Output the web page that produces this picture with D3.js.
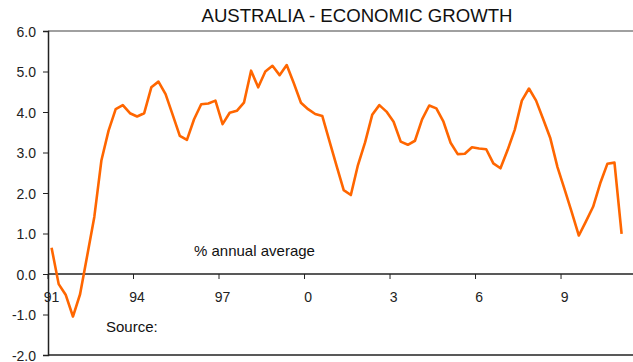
<!DOCTYPE html>
<html>
<head>
<meta charset="utf-8">
<script src="https://cdn.jsdelivr.net/npm/d3@7"></script>
<style>
  body { margin: 0; background: #fff; }
  svg { display: block; font-family: "Liberation Sans", Arial, sans-serif; }
</style>
</head>
<body>
<div id="chart"></div>
<script>
// quarterly % annual average, 1991 Q1 onwards
var growth = [
  0.65, -0.25, -0.52, -1.05, -0.50, 0.45, 1.41, 2.81,
  3.54, 4.07, 4.17, 3.97, 3.89, 3.97, 4.61, 4.75,
  4.44, 3.93, 3.41, 3.31, 3.82, 4.19, 4.21, 4.28,
  3.70, 3.98, 4.03, 4.23, 5.02, 4.61, 5.00, 5.14,
  4.91, 5.16, 4.71, 4.23, 4.07, 3.95, 3.90, 3.28,
  2.67, 2.07, 1.95, 2.69, 3.25, 3.93, 4.17, 4.01,
  3.76, 3.27, 3.19, 3.29, 3.82, 4.16, 4.09, 3.76,
  3.24, 2.96, 2.97, 3.13, 3.10, 3.08, 2.73, 2.61,
  3.06, 3.56, 4.28, 4.58, 4.28, 3.82, 3.35, 2.64,
  2.09, 1.53, 0.95, 1.30, 1.66, 2.24, 2.72, 2.75,
  0.99
];
var yTicks = [-2, -1, 0, 1, 2, 3, 4, 5, 6];
var xTickLabels = ["91", "94", "97", "0", "3", "6", "9"];
var quartersPerTick = 12;

var width = 633, height = 362;
var margin = {top: 31, right: 0, bottom: 7, left: 48};

var svg = d3.select("#chart").append("svg")
    .attr("width", width)
    .attr("height", height);

var x = d3.scaleLinear().domain([0, 82.1]).range([margin.left, width - margin.right]);
var y = d3.scaleLinear().domain([-2, 6]).range([height - margin.bottom, margin.top]);

// title
svg.append("text")
    .attr("x", 357)
    .attr("y", 22)
    .attr("text-anchor", "middle")
    .style("font-size", "18.6px")
    .style("fill", "#111")
    .text("AUSTRALIA - ECONOMIC GROWTH");

// frame: top in grey, bottom + left dark
svg.append("line")
    .attr("x1", margin.left).attr("x2", width)
    .attr("y1", y(6)).attr("y2", y(6))
    .style("stroke", "#808080").style("stroke-width", 1.5);
svg.append("line")
    .attr("x1", margin.left).attr("x2", width)
    .attr("y1", y(-2)).attr("y2", y(-2))
    .style("stroke", "#222").style("stroke-width", 1.5);

// y axis
var yAxis = svg.append("g")
    .attr("transform", "translate(" + margin.left + ",0)")
    .call(d3.axisLeft(y).tickValues(yTicks).tickSize(5).tickPadding(7).tickFormat(d3.format(".1f")));
yAxis.select(".domain").style("stroke", "#222").style("stroke-width", 1.5);
yAxis.selectAll(".tick line").style("stroke", "#222");
yAxis.selectAll("text")
    .style("font-size", "14px")
    .style("fill", "#222")
    .style("font-family", "'Liberation Sans', Arial, sans-serif")
    .attr("dy", "0.36em")
    .text(d => d3.format(".1f")(d).replace("\u2212", "-"));

// x axis along zero
var xTicks = d3.range(xTickLabels.length).map(i => i * quartersPerTick);
var xAxis = svg.append("g").attr("transform", "translate(0," + y(0) + ")");
xAxis.append("line")
    .attr("x1", margin.left).attr("x2", width)
    .style("stroke", "#222").style("stroke-width", 1.5);
xAxis.selectAll(".xtick")
    .data(xTicks)
    .enter().append("line")
    .attr("class", "xtick")
    .attr("x1", d => x(d)).attr("x2", d => x(d))
    .attr("y1", 0).attr("y2", 5)
    .style("stroke", "#222");
xAxis.selectAll(".xlabel")
    .data(xTicks)
    .enter().append("text")
    .attr("class", "xlabel")
    .attr("x", d => x(d + 0.5))
    .attr("y", 28)
    .attr("text-anchor", "middle")
    .style("font-size", "14px")
    .style("fill", "#222")
    .text((d, i) => xTickLabels[i]);

// annotations
svg.append("text")
    .attr("x", 194).attr("y", 256)
    .style("font-size", "15px").style("fill", "#111")
    .text("% annual average");
svg.append("text")
    .attr("x", 106).attr("y", 332)
    .style("font-size", "15px").style("fill", "#111")
    .text("Source:");

// series
var line = d3.line()
    .x((d, i) => x(i + 0.5))
    .y(d => y(d));

svg.append("path")
    .datum(growth)
    .attr("d", line)
    .style("fill", "none")
    .style("stroke", "#ff6600")
    .style("stroke-width", 2.6)
    .style("stroke-linejoin", "round");
</script>
</body>
</html>
